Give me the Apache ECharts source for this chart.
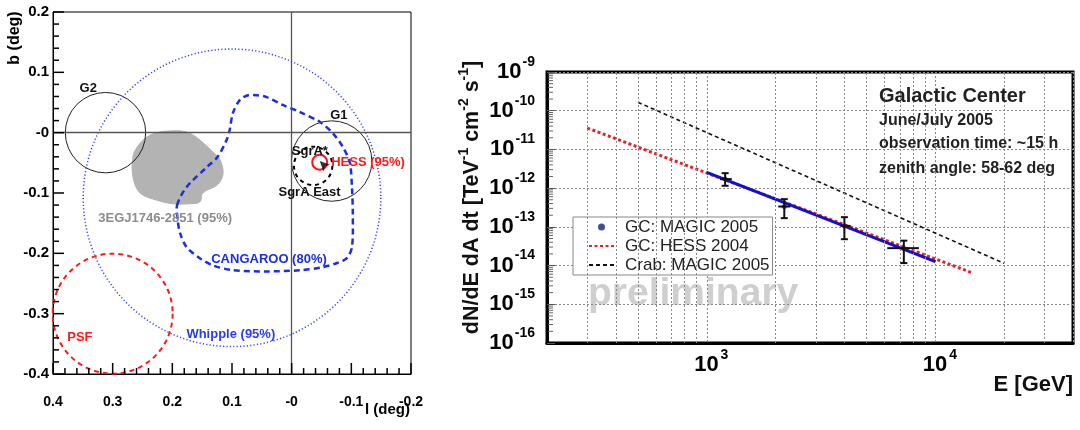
<!DOCTYPE html>
<html><head><meta charset="utf-8">
<script src="https://cdn.jsdelivr.net/npm/echarts@6/dist/echarts.min.js"></script>
<style>html,body{margin:0;padding:0;background:#fff}#c{width:1080px;height:430px}</style>
</head><body><div id="c"></div>
<script>
// ===== Left panel: sky map (galactic l, b in deg) =====
const circleNames = ['G2', 'G1', 'SgrA East', 'HESS (95%)', 'Whipple (95%)', 'PSF'];
const circleL = [0.312, -0.067, -0.036, -0.047, 0.100, 0.300];
const circleB = [0.000, -0.047, -0.055, -0.049, -0.108, -0.300];
const circleR = [0.067, 0.067, 0.032, 0.0125, 0.248, 0.100];

const cangarooL = [0.192, 0.176, 0.142, 0.124, 0.109, 0.104, 0.0985, 0.087, 0.073, 0.058, 0.042, 0.015, -0.014, -0.047, -0.069, -0.086, -0.0975, -0.101, -0.1025, -0.101, -0.0925, -0.076, -0.052, -0.014, 0.042, 0.0985, 0.132, 0.154, 0.176, 0.187, 0.191];
const cangarooB = [-0.120, -0.090, -0.057, -0.040, -0.012, 0.004, 0.0325, 0.054, 0.062, 0.062, 0.059, 0.046, 0.034, 0.018, -0.001, -0.024, -0.050, -0.090, -0.137, -0.190, -0.208, -0.216, -0.223, -0.228, -0.230, -0.228, -0.220, -0.208, -0.190, -0.1665, -0.145];

const egretL = [0.199, 0.187, 0.1705, 0.154, 0.132, 0.120, 0.115, 0.124, 0.149, 0.154, 0.1755, 0.199, 0.226, 0.254, 0.266, 0.266, 0.259, 0.2425, 0.221];
const egretB = [0.003, 0.003, -0.001, -0.012, -0.032, -0.045, -0.068, -0.086, -0.100, -0.115, -0.118, -0.118, -0.112, -0.100, -0.074, -0.040, -0.024, -0.007, 0.001];

const sgrAStarL = [-0.047];
const sgrAStarB = [-0.047];

const annotationTexts = ['G2', 'G1', 'SgrA*', 'HESS (95%)', 'SgrA East', '3EGJ1746-2851 (95%)', 'CANGAROO (80%)', 'Whipple (95%)', 'PSF'];

// ===== Right panel: spectrum =====
const gcEnergy = [1203, 2183, 3999, 7278];            // GeV
const gcEnergyLow = [1144, 2054, 3842, 6160];
const gcEnergyHigh = [1287, 2320, 4251, 8472];
const gcFlux = [1.71e-12, 3.35e-13, 1.06e-13, 2.82e-14];
const gcFluxLow = [1.15e-12, 1.68e-13, 4.8e-14, 1.16e-14];
const gcFluxHigh = [2.44e-12, 5.2e-13, 1.78e-13, 4.4e-14];

const magicFitE = [1000, 10000];
const magicFitF = [2.56e-12, 1.26e-14];
const hessE = [300, 14500];
const hessF = [3.57e-11, 6.5e-15];
const crabE = [500, 20000];
const crabF = [1.65e-10, 1.14e-14];

const gridEnergies = [300, 400, 500, 600, 700, 800, 900, 2000, 3000, 4000, 5000, 6000, 7000, 8000, 9000, 20000, 30000];
const minorMultipliers = [2, 3, 4, 5, 6, 7, 8, 9];
const fluxDecades = [-16, -15, -14, -13, -12, -11, -10];

const infoLines = ['Galactic Center', 'June/July 2005', 'observation time: ~15 h', 'zenith angle: 58-62 deg'];

// ===== styles (not data) =====
const FONT = '"Liberation Sans", Arial, Helvetica, sans-serif';
const circleStyles = {
  'G2': {stroke: '#222', lineWidth: 1},
  'G1': {stroke: '#222', lineWidth: 1},
  'SgrA East': {stroke: '#000', lineWidth: 2, lineDash: [4, 4]},
  'HESS (95%)': {stroke: '#ff1010', lineWidth: 2},
  'Whipple (95%)': {stroke: '#3344ff', lineWidth: 1.5, lineDash: [1.2, 2.2]},
  'PSF': {stroke: '#ff1a1a', lineWidth: 2, lineDash: [5, 4]}
};
const annotationStyle = {
  'G2': {x: 0.341, y: 0.074, c: '#111'},
  'G1': {x: -0.079, y: 0.029, c: '#111'},
  'SgrA*': {x: -0.0305, y: -0.0305, c: '#111'},
  'HESS (95%)': {x: -0.128, y: -0.050, c: '#ff1a1a'},
  'SgrA East': {x: -0.030, y: -0.0985, c: '#111'},
  '3EGJ1746-2851 (95%)': {x: 0.212, y: -0.142, c: '#8c8c8c'},
  'CANGAROO (80%)': {x: 0.038, y: -0.210, c: '#1a2ee6'},
  'Whipple (95%)': {x: 0.102, y: -0.334, c: '#2a3cf0'},
  'PSF': {x: 0.355, y: -0.339, c: '#ff1a1a'}
};

// tick decorations (axis ticks, not data)
const yMinorTicks = [];
fluxDecades.forEach(e => minorMultipliers.forEach(m => yMinorTicks.push(m * Math.pow(10, e))));
const skyTicks = [];   // [axis(0=x,1=y), value, major]
for (let k = -10; k <= 20; k++) skyTicks.push([0, Math.round(k * 2) / 100, k % 5 === 0 ? 1 : 0]);
for (let k = -20; k <= 10; k++) skyTicks.push([1, Math.round(k * 2) / 100, k % 5 === 0 ? 1 : 0]);

const chart = echarts.init(document.getElementById('c'), null, {renderer: 'canvas'});

function degLabel(v) {
  if (Math.abs(v) < 1e-9) return '-0';
  return (Math.round(v * 10) / 10).toFixed(1);
}
function powLabel(v) {
  const lg = Math.log10(v);
  const e = Math.round(lg);
  if (Math.abs(lg - e) > 1e-6) return '';
  return '{b|10}{s|' + e + '}';
}
const TRANSPARENT = 'rgba(0,0,0,0)';

const option = {
  animation: false,
  backgroundColor: '#fff',
  textStyle: {fontFamily: FONT},
  grid: [
    {left: 53, top: 12, width: 358, height: 362, show: true, borderColor: '#000', borderWidth: 1},
    {left: 547, top: 72, width: 526, height: 271, show: true, borderColor: '#000', borderWidth: 3}
  ],
  xAxis: [
    {
      type: 'value', gridIndex: 0, min: -0.2, max: 0.4, interval: 0.1, inverse: true,
      axisLine: {show: true, onZero: false, lineStyle: {color: '#000', width: 1}},
      axisTick: {show: false},
      splitLine: {show: false},
      axisLabel: {margin: 21, fontSize: 14, fontWeight: 'bold', color: '#000', fontFamily: FONT, formatter: degLabel}
    },
    {
      type: 'log', logBase: 10, gridIndex: 1, min: 200, max: 40000,
      axisLine: {onZero: false, lineStyle: {color: '#000', width: 3}},
      axisTick: {show: false},
      splitLine: {show: true, lineStyle: {color: '#8a8a8a', type: [2, 2], width: 1}},
      axisLabel: {
        margin: 5, color: '#000', formatter: powLabel, showMinLabel: false, showMaxLabel: false,
        padding: [0, 0, 0, 9],
        rich: {
          b: {fontSize: 22, fontWeight: 'bold', fontFamily: FONT, color: '#000', lineHeight: 34, verticalAlign: 'middle'},
          s: {fontSize: 14, fontWeight: 'bold', fontFamily: FONT, color: '#000', verticalAlign: 'top', padding: [0, 0, 0, 2]}
        }
      }
    }
  ],
  yAxis: [
    {
      type: 'value', gridIndex: 0, min: -0.4, max: 0.2, interval: 0.1,
      axisLine: {show: true, onZero: false, lineStyle: {color: '#000', width: 1}},
      axisTick: {show: false},
      splitLine: {show: false},
      axisLabel: {margin: 4, fontSize: 15, fontWeight: 'bold', color: '#000', fontFamily: FONT, formatter: degLabel}
    },
    {
      type: 'log', logBase: 10, gridIndex: 1, min: 1e-16, max: 1e-9,
      axisLine: {onZero: false, lineStyle: {color: '#000', width: 3}},
      axisTick: {show: true, inside: true, length: 8, lineStyle: {color: '#555', width: 1}},
      splitLine: {show: true, lineStyle: {color: '#8a8a8a', type: [2, 2], width: 1}},
      axisLabel: {
        margin: 12, color: '#000', formatter: powLabel,
        rich: {
          b: {fontSize: 22, fontWeight: 'bold', fontFamily: FONT, color: '#000', lineHeight: 34, verticalAlign: 'middle'},
          s: {fontSize: 14, fontWeight: 'bold', fontFamily: FONT, color: '#000', verticalAlign: 'top', padding: [0, 0, 0, 1]}
        }
      },
      name: '{m|dN/dE dA dt [TeV}{s|-1}{m| cm}{s|-2}{m| s}{s|-1}{m|]}',
      nameLocation: 'middle', nameGap: 60, nameRotate: 90,
      nameTextStyle: {
        padding: [0, 0, 0, 20],
        rich: {
          m: {fontSize: 21.5, fontWeight: 'bold', fontFamily: FONT, color: '#111', lineHeight: 30, verticalAlign: 'middle'},
          s: {fontSize: 14, fontWeight: 'bold', fontFamily: FONT, color: '#111', verticalAlign: 'top'}
        }
      }
    }
  ],
  legend: {
    orient: 'vertical', left: 573, top: 217,
    itemWidth: 25, itemHeight: 7, itemGap: 1,
    padding: [1, 3, 1, 15],
    backgroundColor: '#fff', borderColor: '#888', borderWidth: 1, borderRadius: 0,
    textStyle: {fontSize: 17, color: '#222', fontFamily: FONT, lineHeight: 18, padding: [0, 0, 0, 6]},
    data: ['GC: MAGIC 2005', 'GC: HESS 2004', 'Crab: MAGIC 2005']
  },
  graphic: [
    {type: 'text', left: 588, top: 275, z: 0, silent: true,
      style: {text: 'preliminary', font: 'bold 39px ' + FONT, fill: '#cfcfcf'}},
    {type: 'text', x: 879, y: 96, z: 50, style: {text: infoLines[0], font: 'bold 20px ' + FONT, fill: '#222', verticalAlign: 'middle'}},
    {type: 'text', x: 879, y: 121, z: 50, style: {text: infoLines[1], font: 'bold 16px ' + FONT, fill: '#222', verticalAlign: 'middle'}},
    {type: 'text', x: 879, y: 144, z: 50, style: {text: infoLines[2], font: 'bold 16px ' + FONT, fill: '#222', verticalAlign: 'middle'}},
    {type: 'text', x: 879, y: 169, z: 50, style: {text: infoLines[3], font: 'bold 16px ' + FONT, fill: '#222', verticalAlign: 'middle'}},
    {type: 'text', x: 1073, y: 385, z: 50, style: {text: 'E [GeV]', font: 'bold 22px ' + FONT, fill: '#111', align: 'right', verticalAlign: 'middle'}},
    {type: 'text', x: 15, y: 38, rotation: Math.PI / 2, z: 50, style: {text: 'b (deg)', font: 'bold 16px ' + FONT, fill: '#000', align: 'center', verticalAlign: 'middle'}},
    {type: 'text', x: 410, y: 410, z: 50, style: {text: 'l (deg)', font: 'bold 15px ' + FONT, fill: '#000', align: 'right', verticalAlign: 'middle'}}
  ],
  series: [
    // --- left panel ---
    {
      type: 'custom', name: 'skyTicks', xAxisIndex: 0, yAxisIndex: 0, z: 8, silent: true,
      data: skyTicks,
      renderItem: function (params, api) {
        const cs = params.coordSys;
        const axis = api.value(0), v = api.value(1), len = api.value(2) ? 11 : 6;
        if (axis === 0) {
          const x = api.coord([v, 0])[0];
          const yb = cs.y + cs.height;
          return {type: 'line', shape: {x1: x, y1: yb, x2: x, y2: yb - len}, style: {stroke: '#000', lineWidth: 1.5}};
        }
        const y = api.coord([0, v])[1];
        return {type: 'line', shape: {x1: cs.x, y1: y, x2: cs.x + len, y2: y}, style: {stroke: '#000', lineWidth: 1.5}};
      }
    },
    {
      type: 'custom', name: 'egret', xAxisIndex: 0, yAxisIndex: 0, z: 2, silent: true,
      data: egretL.map((l, i) => [l, egretB[i]]),
      renderItem: function (params, api) {
        if (params.dataIndex !== 0) return null;
        const pts = egretL.map((l, i) => api.coord([l, egretB[i]]));
        return {type: 'polygon', shape: {points: pts, smooth: 0.35}, style: {fill: '#b3b3b3', stroke: '#b3b3b3', lineWidth: 1}};
      }
    },
    {
      type: 'custom', name: 'circles', xAxisIndex: 0, yAxisIndex: 0, z: 3, silent: true,
      data: circleL.map((l, i) => [l, circleB[i], circleR[i], i]),
      renderItem: function (params, api) {
        const i = api.value(3);
        const c = api.coord([api.value(0), api.value(1)]);
        const s = api.size([api.value(2), api.value(2)]);
        const st = circleStyles[circleNames[i]];
        return {type: 'circle', shape: {cx: c[0], cy: c[1], r: (s[0] + s[1]) / 2},
          style: {fill: 'none', stroke: st.stroke, lineWidth: st.lineWidth, lineDash: st.lineDash || null}};
      },
      markLine: {
        silent: true, symbol: 'none', label: {show: false},
        lineStyle: {color: '#555', width: 1.3, type: 'solid'},
        data: [{xAxis: 0}, {yAxis: 0}]
      }
    },
    {
      type: 'custom', name: 'cangaroo', xAxisIndex: 0, yAxisIndex: 0, z: 4, silent: true,
      data: cangarooL.map((l, i) => [l, cangarooB[i]]),
      renderItem: function (params, api) {
        if (params.dataIndex !== 0) return null;
        const pts = cangarooL.map((l, i) => api.coord([l, cangarooB[i]]));
        return {type: 'polygon', shape: {points: pts, smooth: 0.3},
          style: {fill: 'none', stroke: '#1a2ee6', lineWidth: 2.5, lineDash: [6, 4]}};
      }
    },
    {
      type: 'scatter', name: 'SgrA*', xAxisIndex: 0, yAxisIndex: 0, z: 5, silent: true,
      data: sgrAStarL.map((l, i) => [l, sgrAStarB[i]]),
      symbol: 'arrow', symbolSize: [7, 10], symbolRotate: 45,
      itemStyle: {color: '#000'}
    },
    {
      type: 'custom', name: 'labels', xAxisIndex: 0, yAxisIndex: 0, z: 6, silent: true,
      data: annotationTexts.map((t, i) => [annotationStyle[t].x, annotationStyle[t].y, i]),
      renderItem: function (params, api) {
        const t = annotationTexts[api.value(2)];
        const p = api.coord([api.value(0), api.value(1)]);
        return {type: 'text', x: p[0], y: p[1],
          style: {text: t, fill: annotationStyle[t].c, font: 'bold 13px ' + FONT, align: 'center', verticalAlign: 'middle'}};
      }
    },
    // --- right panel ---
    {
      type: 'line', name: 'grid', xAxisIndex: 1, yAxisIndex: 1, z: 1, data: [], silent: true,
      markLine: {
        silent: true, symbol: 'none', label: {show: false},
        lineStyle: {color: '#8a8a8a', type: [2, 2], width: 1},
        data: gridEnergies.map(v => ({xAxis: v}))
      }
    },
    {
      type: 'custom', name: 'yMinorTicks', xAxisIndex: 1, yAxisIndex: 1, z: 2, silent: true,
      data: yMinorTicks.map(v => [1000, v]),
      renderItem: function (params, api) {
        const y = api.coord([api.value(0), api.value(1)])[1];
        const x0 = params.coordSys.x;
        return {type: 'line', shape: {x1: x0 + 1, y1: y, x2: x0 + 6, y2: y}, style: {stroke: '#666', lineWidth: 1}};
      }
    },
    {
      type: 'line', name: 'Crab: MAGIC 2005', xAxisIndex: 1, yAxisIndex: 1, z: 3,
      data: crabE.map((e, i) => [e, crabF[i]]),
      symbol: 'none', lineStyle: {color: '#111', width: 1.6, type: [4, 3]}, itemStyle: {color: TRANSPARENT}
    },
    {
      type: 'line', name: 'GC: HESS 2004', xAxisIndex: 1, yAxisIndex: 1, z: 3,
      data: hessE.map((e, i) => [e, hessF[i]]),
      symbol: 'none', lineStyle: {color: '#e8202a', width: 3, type: [3, 2.5]}, itemStyle: {color: TRANSPARENT}
    },
    {
      type: 'line', name: 'MAGIC fit', xAxisIndex: 1, yAxisIndex: 1, z: 4,
      data: magicFitE.map((e, i) => [e, magicFitF[i]]),
      symbol: 'none', lineStyle: {color: '#1010d0', width: 3}, itemStyle: {color: '#1010d0'}
    },
    {
      type: 'scatter', name: 'GC: MAGIC 2005', xAxisIndex: 1, yAxisIndex: 1, z: 5,
      data: gcEnergy.map((e, i) => [e, gcFlux[i]]),
      symbol: 'circle', symbolSize: 5, itemStyle: {color: '#14237a'}
    },
    {
      type: 'custom', name: 'errors', xAxisIndex: 1, yAxisIndex: 1, z: 6, silent: true,
      data: gcEnergy.map((e, i) => [e, gcFlux[i], gcEnergyLow[i], gcEnergyHigh[i], gcFluxLow[i], gcFluxHigh[i]]),
      renderItem: function (params, api) {
        const x = api.value(0), y = api.value(1);
        const pl = api.coord([api.value(2), y]), ph = api.coord([api.value(3), y]);
        const pb = api.coord([x, api.value(4)]), pt = api.coord([x, api.value(5)]);
        const st = {stroke: '#111', lineWidth: 2};
        return {type: 'group', children: [
          {type: 'line', shape: {x1: pl[0], y1: pl[1], x2: ph[0], y2: ph[1]}, style: st},
          {type: 'line', shape: {x1: pb[0], y1: pb[1], x2: pt[0], y2: pt[1]}, style: st},
          {type: 'line', shape: {x1: pt[0] - 3.5, y1: pt[1], x2: pt[0] + 3.5, y2: pt[1]}, style: st},
          {type: 'line', shape: {x1: pb[0] - 3.5, y1: pb[1], x2: pb[0] + 3.5, y2: pb[1]}, style: st}
        ]};
      }
    }
  ]
};
chart.setOption(option);
</script>
</body></html>
